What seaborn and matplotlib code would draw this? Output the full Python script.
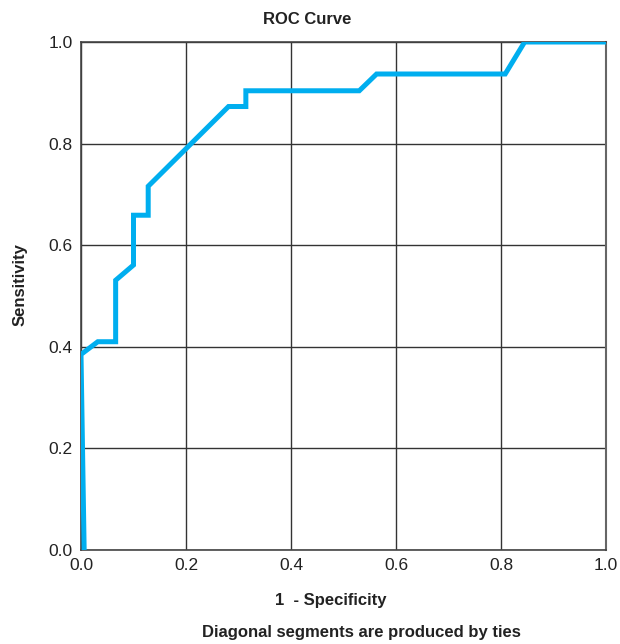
import matplotlib
matplotlib.use("Agg")
import matplotlib.pyplot as plt
from matplotlib import font_manager
import seaborn as sns
import pandas as pd

# ROC curve points
fpr = [0.006, 0.0, 0.032, 0.066, 0.066, 0.1, 0.1, 0.128, 0.128, 0.281, 0.314, 0.314, 0.53, 0.563, 0.808, 0.845, 1.0]
tpr = [0.0, 0.385, 0.41, 0.41, 0.531, 0.561, 0.659, 0.659, 0.716, 0.873, 0.873, 0.904, 0.904, 0.937, 0.937, 1.0, 1.0]
ticks = [0.0, 0.2, 0.4, 0.6, 0.8, 1.0]
tick_labels = ["0.0", "0.2", "0.4", "0.6", "0.8", "1.0"]

sns.set_theme(style="white")
names = {f.name for f in font_manager.fontManager.ttflist}
narrow = "Liberation Sans Narrow" if "Liberation Sans Narrow" in names else "Liberation Sans"
plt.rcParams["font.family"] = [narrow, "DejaVu Sans"]

df = pd.DataFrame({"fpr": fpr, "tpr": tpr})

fig = plt.figure(figsize=(6.2, 6.44), dpi=100)
ax = fig.add_axes([81 / 620, 1 - 550 / 644, 525 / 620, 508 / 644])

sns.lineplot(data=df, x="fpr", y="tpr", sort=False, estimator=None, errorbar=None,
             ax=ax, color="#00AEEF", linewidth=3.6, solid_joinstyle="miter", zorder=3)

ax.set_xlim(0, 1)
ax.set_ylim(0, 1)
ax.set_xticks(ticks)
ax.set_yticks(ticks)
ax.set_xticklabels(tick_labels)
ax.set_yticklabels(tick_labels)
ax.tick_params(axis="both", length=0, labelsize=12.5, colors="#222222", pad=6)
ax.grid(True, color="#333333", linewidth=1.0)
for side in ["left", "bottom", "top"]:
    ax.spines[side].set_color("#444444")
    ax.spines[side].set_linewidth(1.2)
ax.spines["right"].set_color("#666666")
ax.spines["right"].set_linewidth(1.5)
ax.set_xlabel("")
ax.set_ylabel("")

fig.text(307 / 620, 1 - 20 / 644, "ROC Curve", ha="center", va="center",
         fontsize=12, fontweight="bold", color="#222222")
fig.text(331 / 620, 1 - 601 / 644, "1  - Specificity", ha="center", va="center",
         fontsize=12, fontweight="bold", color="#222222")
fig.text(361 / 620, 1 - 633 / 644, "Diagonal segments are produced by ties", ha="center",
         va="center", fontsize=12, fontweight="bold", color="#222222")
fig.text(20 / 620, 1 - 285 / 644, "Sensitivity", ha="center", va="center", rotation=90,
         fontsize=12, fontweight="bold", color="#222222")

fig.savefig("out.png", dpi=100)
